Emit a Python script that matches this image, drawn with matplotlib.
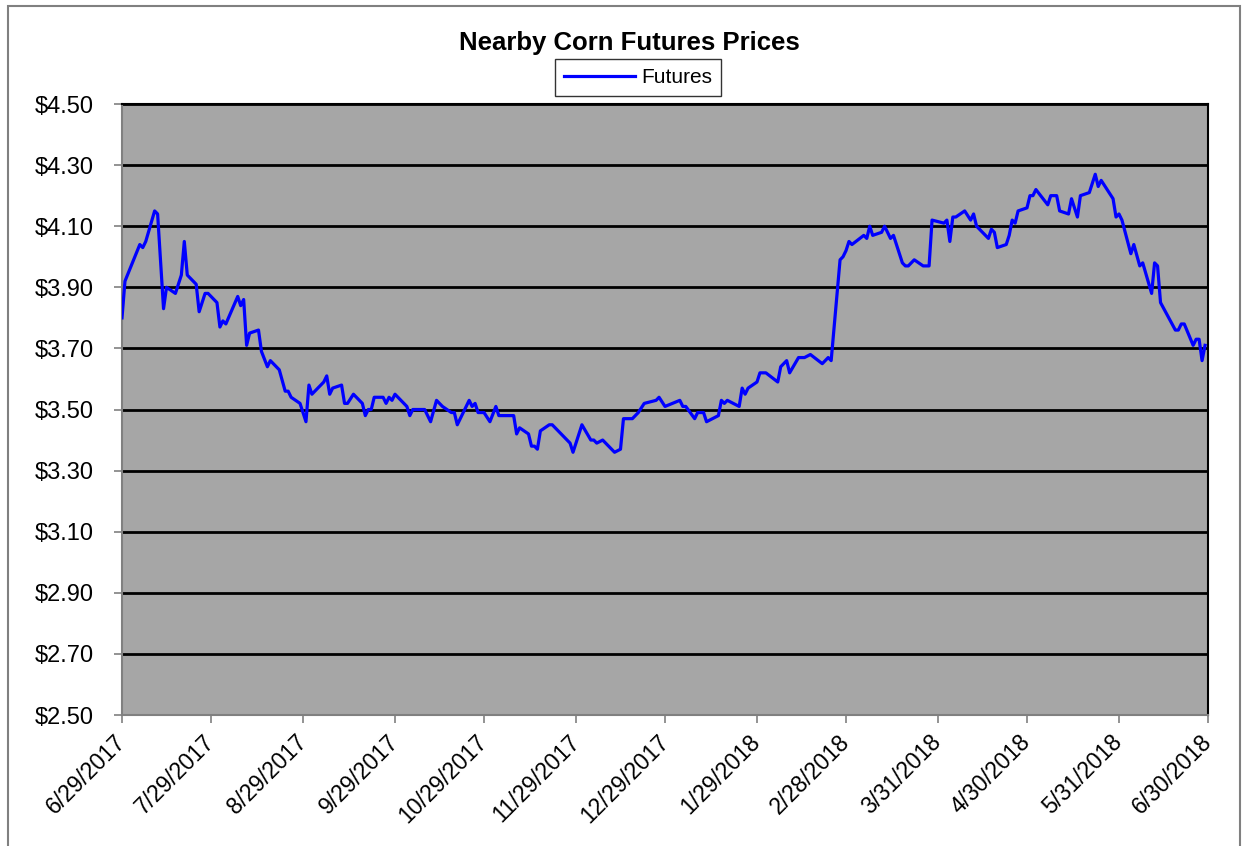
import matplotlib
matplotlib.use("Agg")
import matplotlib.pyplot as plt
import matplotlib.dates as mdates
import pandas as pd
from matplotlib.lines import Line2D
from matplotlib.ticker import FuncFormatter

plt.rcParams["font.family"] = ["Liberation Sans", "DejaVu Sans"]

START = "2017-06-29"
END = "2018-06-30"

# days after 6/29/2017
DAYS = [
    0, 1, 6, 7, 8, 11, 12, 14, 15, 18, 20, 21, 22, 25, 26, 28, 29, 32, 33, 34,
    35, 39, 40, 41, 42, 43, 46, 47, 49, 50, 53, 55, 56, 57, 60, 62, 63, 64, 68, 69,
    70, 71, 74, 75, 76, 78, 81, 82, 83, 84, 85, 88, 89, 90, 91, 92, 94, 96, 97, 98,
    102, 104, 106, 108, 111, 112, 113, 115, 117, 118, 119, 120, 122, 124, 126, 127,
    132, 133, 134, 137, 138, 139, 140, 141, 144, 145, 151, 152, 155, 158, 159, 160,
    162, 166, 168, 169, 172, 174, 176, 180, 181, 183, 188, 189, 190, 193, 194, 196,
    197, 201, 202, 203, 204, 208, 209, 210, 211, 214, 215, 217, 221, 222, 224, 225,
    228, 230, 232, 236, 238, 239, 242, 243, 244, 245, 246, 250, 251, 252, 253, 256,
    257, 259, 260, 263, 264, 265, 267, 270, 272, 273, 277, 278, 279, 280, 281, 284,
    286, 287, 288, 292, 293, 294, 295, 298, 299, 300, 301, 302, 305, 306, 307, 308,
    312, 313, 315, 316, 319, 320, 322, 323, 326, 327, 328, 329, 330, 334, 335, 336,
    337, 340, 341, 343, 344, 347, 348, 349, 350, 355, 356, 357, 358, 361, 362, 363,
    364, 365,
]
PRICES = [
    3.80, 3.92, 4.04, 4.03, 4.05, 4.15, 4.14, 3.83, 3.90, 3.88, 3.94, 4.05, 3.94, 3.91, 3.82, 3.88, 3.88, 3.85, 3.77, 3.79,
    3.78, 3.87, 3.84, 3.86, 3.71, 3.75, 3.76, 3.69, 3.64, 3.66, 3.63, 3.56, 3.56, 3.54, 3.52, 3.46, 3.58, 3.55, 3.59, 3.61,
    3.55, 3.57, 3.58, 3.52, 3.52, 3.55, 3.52, 3.48, 3.50, 3.50, 3.54, 3.54, 3.52, 3.54, 3.53, 3.55, 3.53, 3.51, 3.48, 3.50,
    3.50, 3.46, 3.53, 3.51, 3.49, 3.49, 3.45, 3.49, 3.53, 3.51, 3.52, 3.49, 3.49, 3.46, 3.51, 3.48,
    3.48, 3.42, 3.44, 3.42, 3.38, 3.38, 3.37, 3.43, 3.45, 3.45, 3.39, 3.36, 3.45, 3.40, 3.40, 3.39,
    3.40, 3.36, 3.37, 3.47, 3.47, 3.49, 3.52, 3.53, 3.54, 3.51, 3.53, 3.51, 3.51, 3.47, 3.49, 3.49,
    3.46, 3.48, 3.53, 3.52, 3.53, 3.51, 3.57, 3.55, 3.57, 3.59, 3.62, 3.62, 3.59, 3.64, 3.66, 3.62,
    3.67, 3.67, 3.68, 3.65, 3.67, 3.66, 3.99, 4.00, 4.02, 4.05, 4.04, 4.07, 4.06, 4.10, 4.07, 4.08,
    4.10, 4.06, 4.07, 3.98, 3.97, 3.97, 3.99, 3.97, 3.97, 4.12, 4.11, 4.12, 4.05, 4.13, 4.13, 4.15,
    4.12, 4.14, 4.10, 4.06, 4.09, 4.08, 4.03, 4.04, 4.07, 4.12, 4.11, 4.15, 4.16, 4.20, 4.20, 4.22,
    4.17, 4.20, 4.20, 4.15, 4.14, 4.19, 4.13, 4.20, 4.21, 4.24, 4.27, 4.23, 4.25, 4.19, 4.13, 4.14,
    4.12, 4.01, 4.04, 3.97, 3.98, 3.88, 3.98, 3.97, 3.85, 3.76, 3.76, 3.78, 3.78, 3.71, 3.73, 3.73,
    3.66, 3.71,
]

Y_TICKS = [2.50, 2.70, 2.90, 3.10, 3.30, 3.50, 3.70, 3.90, 4.10, 4.30, 4.50]

TICK_DATES = ["2017-06-29", "2017-07-29", "2017-08-29", "2017-09-29", "2017-10-29",
              "2017-11-29", "2017-12-29", "2018-01-29", "2018-02-28", "2018-03-31",
              "2018-04-30", "2018-05-31", "2018-06-30"]
TICK_LABELS = ["6/29/2017", "7/29/2017", "8/29/2017", "9/29/2017", "10/29/2017",
               "11/29/2017", "12/29/2017", "1/29/2018", "2/28/2018", "3/31/2018",
               "4/30/2018", "5/31/2018", "6/30/2018"]

dates = pd.Timestamp(START) + pd.to_timedelta(DAYS, unit="D")

W, H = 1248, 846
fig = plt.figure(figsize=(W / 100, H / 100), dpi=100)
fig.patch.set_facecolor("white")
ax = fig.add_axes([122 / W, 1 - 715 / H, (1208 - 122) / W, (715 - 104) / H])
ax.set_facecolor("#a6a6a6")

ax.plot(dates, PRICES, color="#0000ff", lw=2.3, label="Futures", zorder=3)

ax.set_xlim(pd.Timestamp(START), pd.Timestamp(END))
ax.set_ylim(2.50, 4.50)
ax.set_yticks(Y_TICKS)
ax.yaxis.set_major_formatter(FuncFormatter(lambda v, p: f"${v:.2f}"))
ax.grid(axis="y", color="black", lw=2.0, zorder=1)
ax.set_axisbelow(True)

ax.set_xticks([mdates.date2num(pd.Timestamp(d)) for d in TICK_DATES])
ax.set_xticklabels(TICK_LABELS, rotation=45, ha="right", va="center",
                   rotation_mode="anchor")

ax.tick_params(axis="both", labelsize=16.5, color="#808080", length=6, width=1.2)
ax.tick_params(axis="x", pad=11)
ax.tick_params(axis="y", pad=14)
for lab in ax.get_yticklabels():
    lab.set_fontsize(17)

for side in ("left", "bottom"):
    ax.spines[side].set_color("#808080")
    ax.spines[side].set_linewidth(1.5)
for side in ("top", "right"):
    ax.spines[side].set_color("black")
    ax.spines[side].set_linewidth(1.5)

fig.text(629 / W, 1 - 43 / H, "Nearby Corn Futures Prices", ha="center",
         va="center", fontsize=18.5, fontweight="bold")

leg = fig.legend(handles=[Line2D([], [], color="#0000ff", lw=2.3)], labels=["Futures"],
                 loc="center", bbox_to_anchor=(638 / W, 1 - 77.5 / H),
                 fontsize=15, frameon=True, fancybox=False, borderpad=0.45,
                 handlelength=3.4, handletextpad=0.3)
leg.get_frame().set_edgecolor("black")
leg.get_frame().set_linewidth(1.0)

# chart border
fig.add_artist(plt.Rectangle((8 / W, -0.05), (1240 - 8) / W, 1.05 - 6 / H,
                             transform=fig.transFigure, fill=False,
                             edgecolor="#808080", lw=1.5))

fig.savefig("out.png", dpi=100)
